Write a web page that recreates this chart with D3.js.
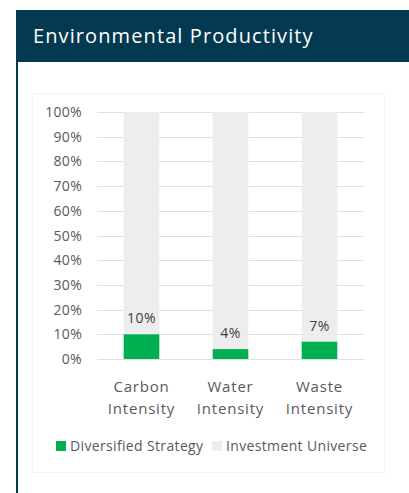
<!DOCTYPE html>
<html>
<head>
<meta charset="utf-8">
<script src="https://cdn.jsdelivr.net/npm/d3@7"></script>
<style>
  body { margin: 0; background: #fff; }
  svg { display: block; font-family: 'Open Sans', sans-serif; }
</style>
</head>
<body>
<div id="chart"></div>
<script>
// data
const categories = [['Carbon', 'Intensity'], ['Water', 'Intensity'], ['Waste', 'Intensity']];
const strategy = [10, 4, 7];          // Diversified Strategy
const universe = [100, 100, 100];     // Investment Universe
const yTicks = [0, 10, 20, 30, 40, 50, 60, 70, 80, 90, 100];
const seriesNames = ['Diversified Strategy', 'Investment Universe'];

const width = 409, height = 493;
const margin = { top: 112, right: 45, bottom: 134, left: 97 };
const green = '#00b050', grey = '#ededed', navy = '#033a51';

const svg = d3.select('#chart')
  .append('svg')
  .attr('width', width)
  .attr('height', height);

// header band
svg.append('rect')
  .attr('x', 16).attr('y', 10)
  .attr('width', width - 16).attr('height', 52)
  .attr('fill', navy);

svg.append('text')
  .attr('x', 33).attr('y', 43)
  .attr('fill', '#fff')
  .attr('font-size', 20)
  .attr('letter-spacing', 1.1)
  .text('Environmental Productivity');

// left border of the panel
svg.append('line')
  .attr('x1', 17).attr('x2', 17)
  .attr('y1', 62).attr('y2', height)
  .attr('stroke', navy).attr('stroke-width', 2);

// faint chart area box
svg.append('rect')
  .attr('x', 32.5).attr('y', 93.5)
  .attr('width', 352).attr('height', 379)
  .attr('fill', 'none')
  .attr('stroke', '#f4f4f4');

// scales
const x = d3.scaleBand()
  .domain(d3.range(categories.length))
  .range([margin.left, width - margin.right])
  .paddingInner(0.6)
  .paddingOuter(0.3);

const y = d3.scaleLinear()
  .domain([0, 100])
  .range([height - margin.bottom, margin.top]);

// gridlines
svg.append('g')
  .selectAll('line')
  .data(yTicks)
  .join('line')
  .attr('x1', margin.left).attr('x2', width - margin.right)
  .attr('y1', (d) => Math.round(y(d)) + 0.5)
  .attr('y2', (d) => Math.round(y(d)) + 0.5)
  .attr('stroke', '#e0e0e0');

// y axis labels
svg.append('g')
  .selectAll('text')
  .data(yTicks)
  .join('text')
  .attr('x', margin.left - 15)
  .attr('y', (d) => y(d) + 5)
  .attr('text-anchor', 'end')
  .attr('font-size', 14)
  .attr('letter-spacing', 0.3)
  .attr('fill', '#595959')
  .text((d) => `${d}%`);

// grey bars (universe) then green on top
svg.append('g')
  .selectAll('rect')
  .data(universe)
  .join('rect')
  .attr('x', (d, i) => x(i))
  .attr('width', x.bandwidth())
  .attr('y', (d) => y(d))
  .attr('height', (d) => y(0) - y(d))
  .attr('fill', grey);

svg.append('g')
  .selectAll('rect')
  .data(strategy)
  .join('rect')
  .attr('x', (d, i) => x(i))
  .attr('width', x.bandwidth())
  .attr('y', (d) => y(d))
  .attr('height', (d) => y(0) - y(d))
  .attr('fill', green);

// value labels
svg.append('g')
  .selectAll('text')
  .data(strategy)
  .join('text')
  .attr('x', (d, i) => x(i) + x.bandwidth() / 2)
  .attr('y', (d) => y(d) - 11)
  .attr('text-anchor', 'middle')
  .attr('font-size', 14)
  .attr('letter-spacing', 0.4)
  .attr('fill', '#404040')
  .text((d) => `${d}%`);

// category labels (two lines)
const cat = svg.append('g')
  .selectAll('text')
  .data(categories)
  .join('text')
  .attr('x', (d, i) => x(i) + x.bandwidth() / 2)
  .attr('y', y(0) + 33)
  .attr('text-anchor', 'middle')
  .attr('font-size', 15)
  .attr('letter-spacing', 0.8)
  .attr('fill', '#595959');

cat.selectAll('tspan')
  .data((d) => d)
  .join('tspan')
  .attr('x', function () { return d3.select(this.parentNode).attr('x'); })
  .attr('dy', (d, j) => (j === 0 ? 0 : 22))
  .text((d) => d);

// legend
const legendX = [56, 212];
const legend = svg.append('g')
  .selectAll('g')
  .data(seriesNames)
  .join('g')
  .attr('transform', (d, i) => `translate(${legendX[i]}, 441)`);

legend.append('rect')
  .attr('width', 10).attr('height', 10)
  .attr('fill', (d, i) => (i === 0 ? green : grey));

legend.append('text')
  .attr('x', 14).attr('y', 10)
  .attr('font-size', 14)
  .attr('letter-spacing', 0.35)
  .attr('fill', '#595959')
  .text((d) => d);
</script>
</body>
</html>
